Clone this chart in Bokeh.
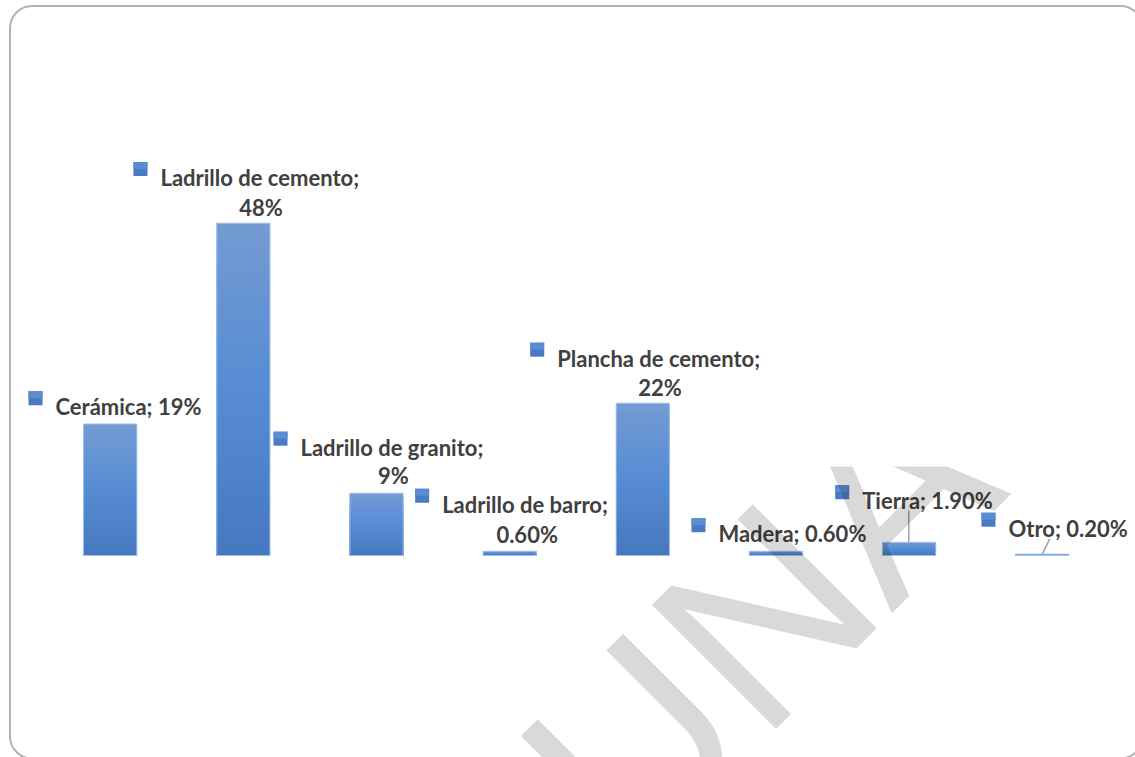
import math
from bokeh.plotting import figure
from bokeh.models import Range1d, Label, BoxAnnotation
from bokeh.embed import file_html
from bokeh.resources import INLINE
from bokeh.core.properties import value

# ---------------- data ----------------
categories = ["Cerámica", "Ladrillo de cemento", "Ladrillo de granito",
              "Ladrillo de barro", "Plancha de cemento", "Madera", "Tierra", "Otro"]
values = [19, 48, 9, 0.6, 22, 0.6, 1.9, 0.2]
value_labels = ["19%", "48%", "9%", "0.60%", "22%", "0.60%", "1.90%", "0.20%"]
two_line = [False, True, True, True, True, False, False, False]

# ---------------- layout (pixels) ----------------
W, H = 1135, 757
PAGE = 0
BAR_X0 = 109.7      # screen x of first bar centre
BAR_STEP = 133.15   # px between bar centres
BASE_Y = 555.0      # screen y of value 0
PX_PER_UNIT = 6.923 # px per percentage point
BAR_W = 0.4

# label text left / cap-centre offsets from bar top-centre (px, screen down positive)
lab_dx = [-54.7, -82.9, -76.0, -67.5, -85.6, -57.5, -46.9, -33.8]
lab_dy = [-25.0, -53.5, -53.7, -54.8, -52.7, -25.3, -49.3, -33.6]
l2_dx = [0, 17.6, 17.0, 17.5, 17.2, 0, 0, 0]
l2_dy = [0, -23.7, -25.2, -24.8, -23.7, 0, 0, 0]
# leader lines: (index, dx0, dy0, dx1, dy1)
leaders = [(6, -0.3, -31.8, -0.3, 0.0), (7, 7.5, -15.3, 0.0, 0.0)]

FONT_PX = 22
CAP = 0.72 * FONT_PX

kx, ky = BAR_STEP, PX_PER_UNIT
xs = -(BAR_X0 - PAGE) / kx
xe = xs + W / kx
ys = -(H - (BASE_Y - PAGE)) / ky
ye = ys + H / ky


def sx2d(sx):
    return xs + (sx - PAGE) / kx


def sy2d(sy):
    return ys + (H - (sy - PAGE)) / ky


p = figure(width=W, height=H, x_range=Range1d(xs, xe), y_range=Range1d(ys, ye),
           output_backend="svg", toolbar_location=None, min_border=0,
           x_axis_type=None, y_axis_type=None)
p.grid.visible = False
p.outline_line_color = None
p.background_fill_color = "white"
p.border_fill_color = "white"

idx = list(range(len(values)))

# ---------------- gradient bars ----------------
stops = [(0.0, (70, 120, 190)), (0.5, (86, 140, 212)), (1.0, (116, 155, 211))]


def grad(t):
    for (t0, c0), (t1, c1) in zip(stops[:-1], stops[1:]):
        if t <= t1:
            f = (t - t0) / (t1 - t0)
            c = [round(a + (b - a) * f) for a, b in zip(c0, c1)]
            return "#%02x%02x%02x" % tuple(c)
    return "#%02x%02x%02x" % stops[-1][1]


N = 40
gx, gtop, gcol = [], [], []
for j in range(N - 1, -1, -1):
    frac = (j + 1) / N
    col = grad((j + 0.5) / N)
    for i, v in zip(idx, values):
        gx.append(i)
        gtop.append(v * frac)
        gcol.append(col)
p.vbar(x=gx, top=gtop, bottom=0, width=BAR_W, fill_color=gcol, line_color=None)
p.vbar(x=idx, top=values, bottom=0, width=BAR_W, fill_color=None,
       line_color="#a3c0ea", line_width=1)

# ---------------- labels ----------------
t1x, t1y, t1txt = [], [], []
t2x, t2y, t2txt = [], [], []
mx, my = [], []
for i, v in enumerate(values):
    tx = i + lab_dx[i] / kx
    cy = v - lab_dy[i] / ky
    t1x.append(tx)
    t1y.append(cy - (CAP / 2) / ky)
    if two_line[i]:
        t1txt.append(categories[i] + ";")
        t2x.append(i + l2_dx[i] / kx)
        t2y.append(v - l2_dy[i] / ky - (CAP / 2) / ky)
        t2txt.append(value_labels[i])
    else:
        t1txt.append(categories[i] + "; " + value_labels[i])
    mx.append(tx - 20 / kx)
    my.append(cy + 0.8 / ky)

# legend-key squares (two-tone for a slight gradient)
p.rect(x=mx, y=my, width=14, height=14, width_units="screen", height_units="screen",
       fill_color="#4a7bc2", line_color=None)
p.rect(x=mx, y=[y + 3.5 / ky for y in my], width=14, height=7, width_units="screen",
       height_units="screen", fill_color="#5b8bd0", line_color=None)
p.text(x=t1x, y=t1y, text=t1txt, text_font=value("Lato"), text_font_style="bold",
       text_font_size=f"{FONT_PX}px", text_color="#404040",
       text_align="left", text_baseline="alphabetic")
p.text(x=t2x, y=t2y, text=t2txt, text_font=value("Lato"), text_font_style="bold",
       text_font_size=f"{FONT_PX}px", text_color="#404040",
       text_align="center", text_baseline="alphabetic")

# leader lines
lx0, ly0, lx1, ly1 = [], [], [], []
for i, dx0, dy0, dx1, dy1 in leaders:
    lx0.append(i + dx0 / kx)
    ly0.append(values[i] - dy0 / ky)
    lx1.append(i + dx1 / kx)
    ly1.append(values[i] - dy1 / ky)
p.segment(x0=lx0, y0=ly0, x1=lx1, y1=ly1, line_color="#a0a0a0", line_width=1.5)

# ---------------- watermark ----------------
wm = Label(x=sx2d(568), y=sy2d(811), text="UNA", angle=math.radians(45),
           text_align="left", text_baseline="alphabetic",
           text_font="Liberation Sans", text_font_size="255px",
           text_color="black", text_alpha=0.15)
p.add_layout(wm)
# the watermark is cut off at its top in the reference
wm_clip = BoxAnnotation(left=sx2d(785), right=sx2d(1075), top=sy2d(360), bottom=sy2d(466),
                        fill_color="white", fill_alpha=1.0, line_alpha=0)
p.add_layout(wm_clip)

# ---------------- rounded frame ----------------
frame = BoxAnnotation(left=sx2d(9.5), right=sx2d(1142), top=sy2d(5.5), bottom=sy2d(758),
                      border_radius=22, fill_alpha=0, line_color="black", line_width=2)
p.add_layout(frame)

open("out.html", "w").write(file_html(p, INLINE))
